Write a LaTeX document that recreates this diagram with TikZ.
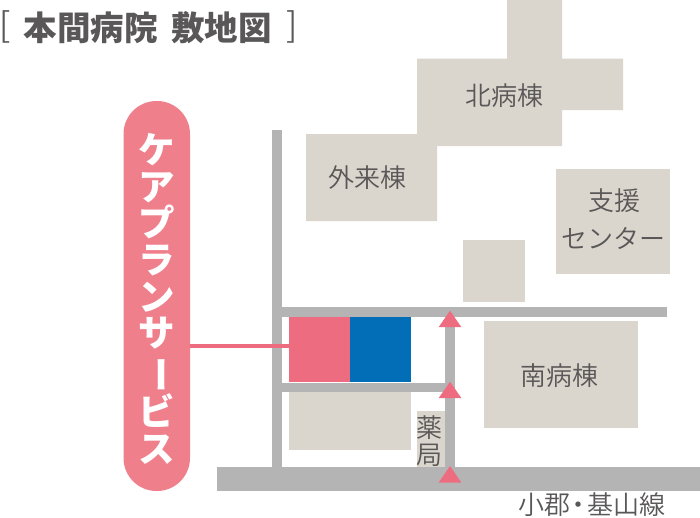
\documentclass[tikz,border=0pt]{standalone}
\usepackage{fontspec}
\usepackage{graphicx}
\setmainfont{Noto Sans CJK JP}
\newfontfamily\labfont{Noto Sans CJK JP DemiLight}
\definecolor{bldgc}{HTML}{DBD6CD}
\definecolor{roadc}{HTML}{B4B4B4}
\definecolor{pinkc}{HTML}{ED6C80}
\definecolor{pillc}{HTML}{F07F8C}
\definecolor{bluec}{HTML}{036EB8}
\definecolor{textc}{HTML}{595757}
\tikzset{
  bldg/.style={fill=bldgc,draw=none},
  road/.style={fill=roadc,draw=none},
  tri/.style={fill=pinkc,draw=none},
  lab/.style={inner sep=0pt,text=textc,font=\labfont\fontsize{26}{26}\selectfont},
  ttl/.style={inner sep=0pt,text=textc,font=\bfseries\fontsize{33.5}{33.5}\selectfont},
  brk/.style={inner sep=0pt,text=textc,font=\labfont\fontsize{34}{34}\selectfont},
  block/.style={inner sep=0pt,outer sep=0pt,anchor=north west,draw=none},
  pillbox/.style={inner sep=0pt,outer sep=0pt,fill=pillc,rounded corners=33pt,text=white,
     minimum width=66.5pt,minimum height=390pt,text width=66.5pt,align=center,
     font=\bfseries\fontsize{36.5}{36.6}\selectfont},
  linkline/.style={draw=pinkc,line width=4pt}
}
\begin{document}
\begin{tikzpicture}[x=1pt,y=-1pt]
\path[use as bounding box,fill=white] (0,0) rectangle (700,517);
% buildings
\fill[bldg] (507,0) -- (562,0) -- (562,58.5) -- (623,58.5) -- (623,110) -- (562,110) -- (562,146) -- (437,146) -- (437,221) -- (306,221) -- (306,134) -- (417,134) -- (417,58.5) -- (507,58.5) -- cycle;
\fill[bldg] (556,168.7) rectangle (670,273.7);
\fill[bldg] (463,240) rectangle (525,302);
\fill[bldg] (484.3,321.3) rectangle (638,428);
\fill[bldg] (289,392) rectangle (411,450);
\fill[bldg] (416.7,411) rectangle (445,467);
% roads
\fill[road] (271.7,130) rectangle (281.7,467);
\fill[road] (281,306.7) rectangle (667,316.7);
\fill[road] (281,382.7) rectangle (446,392.3);
\fill[road] (445,320) rectangle (455,467);
\fill[road] (217,466.7) rectangle (700,491);
% site
\node[block,fill=pinkc,minimum width=61pt,minimum height=65.6pt] (care) at (289,316.7) {};
\node[block,fill=bluec,minimum width=60.7pt,minimum height=65.6pt] (other) at (350,316.7) {};
% entrance triangles
\fill[tri] (450,310.7) -- (461.3,327) -- (438.7,327) -- cycle;
\fill[tri] (450,381.7) -- (461.3,398) -- (438.7,398) -- cycle;
\fill[tri] (450,466) -- (461.3,482.5) -- (438.7,482.5) -- cycle;
% pill and link
\node[pillbox] (pill) at (156.75,296) {\rule{0pt}{36pt}ケ\\ア\\プ\\ラ\\ン\\サ\\\rotatebox[origin=c]{-90}{ー}\\ビ\\ス};
\coordinate (linkend) at (care.west |- 0,345.7);
\draw[linkline] (pill.east |- linkend) -- (linkend);
% labels
\node[lab] (north) at (504.5,95.5) {北病棟};
\node[lab] (outp) at (367,178) {外来棟};
\node[lab] (sup1) at (614,201) {支援};
\node[lab] (sup2) at (613,238) {センター};
\node[lab] (south) at (559,376) {南病棟};
\node[lab] (ph1) at (429.5,428) {薬};
\node[lab] (ph2) at (429.5,455) {局};
\node[lab] (roadname) at (591.7,505) {小郡\hspace{-4.5pt}・\hspace{-4.5pt}基山線};
% title
\node[brk] (lb) at (5.5,27) {[};
\node[ttl] (t1) at (90.5,28) {本間病院};
\node[ttl] (t2) at (221.5,28) {敷地図};
\node[brk] (rb) at (292,27) {]};
\end{tikzpicture}
\end{document}
